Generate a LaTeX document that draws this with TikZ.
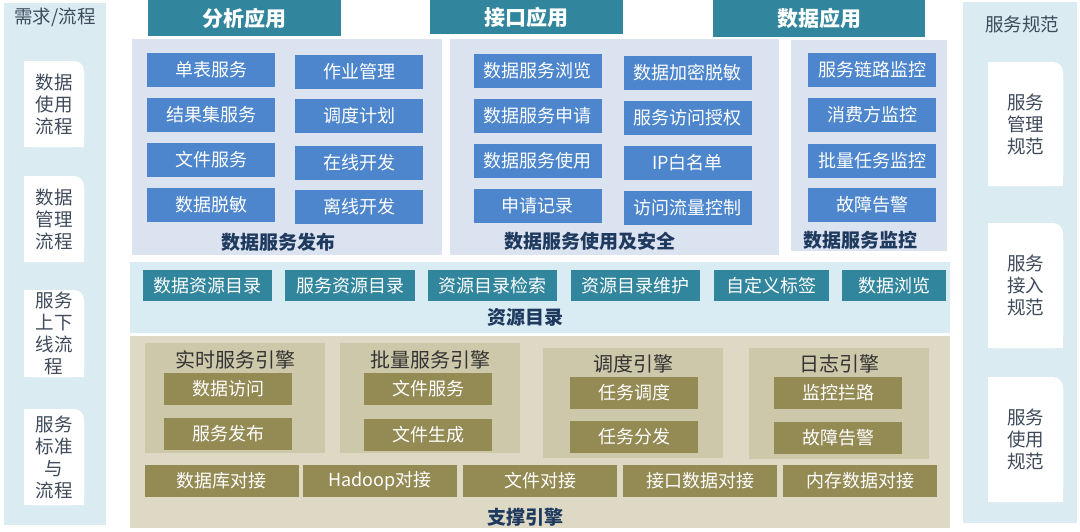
\documentclass[tikz,border=0pt]{standalone}
\usepackage{fontspec}
\setmainfont{Noto Sans CJK SC}
\usepackage{xcolor}
\usepackage{tikz}
\usetikzlibrary{positioning}

\definecolor{headteal}{HTML}{31859C}
\definecolor{svcblue}{HTML}{4D86CC}
\definecolor{panelgray}{HTML}{DCE3F0}
\definecolor{catbg}{HTML}{DAECF3}
\definecolor{sidebg}{HTML}{DAEBF2}
\definecolor{engbg}{HTML}{DDD9C4}
\definecolor{engpanel}{HTML}{CEC8AA}
\definecolor{olive}{HTML}{948A54}
\definecolor{navy}{HTML}{1F3A5F}
\definecolor{sidetext}{HTML}{3F4B5B}

\tikzset{
  hdr/.style={fill=headteal,text=white,inner sep=0pt,font=\fontsize{21}{24}\selectfont\bfseries},
  svcbox/.style={fill=svcblue,text=white,inner sep=0pt,minimum width=128pt,minimum height=34pt,font=\fontsize{18}{20}\selectfont},
  catbox/.style={fill=headteal,text=white,inner sep=0pt,minimum height=31pt,font=\fontsize{18}{20}\selectfont},
  engbox/.style={fill=olive,text=white,inner sep=0pt,minimum height=32pt,font=\fontsize{18}{20}\selectfont},
  layername/.style={text=navy,inner sep=0pt,font=\fontsize{19}{22}\selectfont\bfseries},
  engname/.style={text=black!80,inner sep=0pt,font=\fontsize{20}{22}\selectfont},
  sidename/.style={text=sidetext,inner sep=0pt,align=center,font=\fontsize{18.5}{22}\selectfont},
}

\begin{document}
\begin{tikzpicture}[x=1pt,y=-1pt]
    \useasboundingbox (0,0) rectangle (1080,531);
    % Side columns
    \fill[sidebg] (4,3) rectangle (106,525);
    \fill[sidebg] (963,2) rectangle (1077,523);
    \node[sidename] (reqtitle) at (55,17) {需求/流程};
    \node[sidename] (spectitle) at (1022,24) {服务规范};
    \foreach \name/\yt/\yb/\txt in {lf1/61/147/{数据\\使用\\流程},lf2/176/262/{数据\\管理\\流程},
        lf3/290/377/{服务\\上下\\线流\\程},lf4/409/505/{服务\\标准\\与\\流程}} {
      \fill[white,rounded corners=10pt] (24,\yt) rectangle (84,\yb);
      \fill[white] (24,\yt) rectangle (70,\yb) (24,{\yt+12}) rectangle (84,\yb);
      \node[sidename] (\name) at (54,{(\yt+\yb)/2}) {\txt};
    }
    \foreach \name/\yt/\yb/\txt in {rt1/62/186/{服务\\管理\\规范},rt2/223/348/{服务\\接入\\规范},rt3/377/502/{服务\\使用\\规范}} {
      \fill[white,rounded corners=10pt] (988,\yt) rectangle (1063,\yb);
      \fill[white] (988,\yt) rectangle (1049,\yb) (988,{\yt+12}) rectangle (1063,\yb);
      \node[sidename] (\name) at (1025.5,{(\yt+\yb)/2}) {\txt};
    }
    % Applications
    \node[hdr,minimum width=193pt,minimum height=36pt] (appana) at (244.5,18) {分析应用};
    \node[hdr,minimum width=193pt,minimum height=34pt] (appapi) at (526.5,17) {接口应用};
    \node[hdr,minimum width=212pt,minimum height=37pt] (appdata) at (819,18.5) {数据应用};
    % Service panels
    \fill[panelgray] (132,39) rectangle (442,255);
    \fill[panelgray] (450,39) rectangle (779,255);
    \fill[panelgray] (791,40) rectangle (947,251);
    \foreach \name/\cx/\cy/\txt in {pub1/211/70/单表服务,pub2/211/115/结果集服务,pub3/211/160/文件服务,pub4/211/205/数据脱敏,
        pub5/359/72/作业管理,pub6/359/116/调度计划,pub7/359/163/在线开发,pub8/359/207/离线开发,
        use1/537.5/71/数据服务浏览,use2/537.5/116/数据服务申请,use3/537.5/161/数据服务使用,use4/537.5/206/申请记录,
        use5/687.5/73/数据加密脱敏,use6/687.5/117.5/服务访问授权,use7/687.5/163/IP白名单,use8/687.5/208/访问流量控制,
        mon1/872/70/服务链路监控,mon2/872/114.5/消费方监控,mon3/872/161/批量任务监控,mon4/872/205/故障告警} {
      \node[svcbox] (\name) at (\cx,\cy) {\txt};
    }
    \node[layername] (pubname) at (278,242) {数据服务发布};
    \node[layername] (usename) at (590,241) {数据服务使用及安全};
    \node[layername] (monname) at (860,240) {数据服务监控};
    % Resource catalog
    \fill[catbg] (130,262) rectangle (950,333);
    \foreach \name/\cx/\w/\txt in {cat1/207.5/129/数据资源目录,cat2/350/130/服务资源目录,cat3/492.5/129/资源目录检索,
        cat4/635.5/129/资源目录维护,cat5/771.5/115/自定义标签,cat6/894/104/数据浏览} {
      \node[catbox,minimum width=\w pt] (\name) at (\cx,285.5) {\txt};
    }
    \node[layername] (catname) at (525,317) {资源目录};
    % Support engines
    \fill[engbg] (130,336) rectangle (950,528);
    \fill[engpanel] (145,343) rectangle (325,453);
    \fill[engpanel] (340,343) rectangle (520,453);
    \fill[engpanel] (543,348) rectangle (723,458);
    \fill[engpanel] (749,348) rectangle (929,459);
    \node[engname] (rtname) at (235,360) {实时服务引擎};
    \node[engname] (btname) at (430,360) {批量服务引擎};
    \node[engname] (scname) at (633,364) {调度引擎};
    \node[engname] (lgname) at (839,364) {日志引擎};
    \foreach \name/\cx/\cy/\txt in {rt1/228/389/数据访问,rt2/228/434/服务发布,bt1/428/389/文件服务,bt2/428/435/文件生成,
        sc1/634/393/任务调度,sc2/634/437/任务分发,lg1/838/393/监控拦路,lg2/838/438/故障告警} {
      \node[engbox,minimum width=128pt] (\name) at (\cx,\cy) {\txt};
    }
    \foreach \name/\cx/\txt in {con1/221.5/数据库对接,con2/380/Hadoop对接,con3/540/文件对接,con4/700/接口数据对接,con5/860/内存数据对接} {
      \node[engbox,minimum width=154pt] (\name) at (\cx,481) {\txt};
    }
    \node[layername] (engname) at (525,517) {支撑引擎};
\end{tikzpicture}
\end{document}
